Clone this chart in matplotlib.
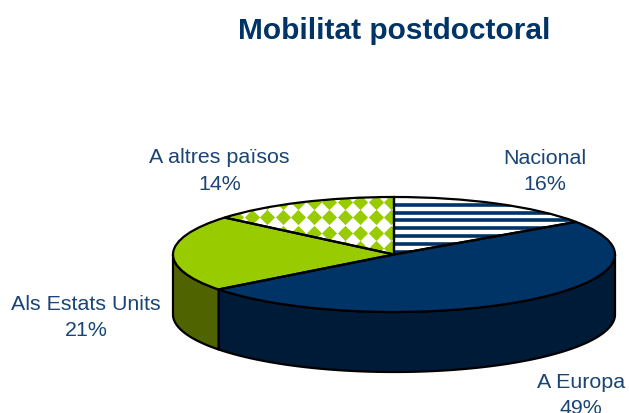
import numpy as np
import matplotlib
matplotlib.use("Agg")
import matplotlib.pyplot as plt

plt.rcParams['font.family'] = ['Liberation Sans', 'DejaVu Sans']

title = "Mobilitat postdoctoral"
categories = ["Nacional", "A Europa", "Als Estats Units", "A altres països"]
values = [15.4, 49.2, 21.5, 13.9]
value_labels = ["16%", "49%", "21%", "14%"]
top_colors = ["white", "#003366", "#99CC00", "white"]
side_colors = ["#BBBBBB", "#001B38", "#4F6300", "#BBBBBB"]
label_pos_px = [(545, 171.5), (581, 395.5), (86, 317.5), (219.5, 171)]

W, H = 629, 414
CX, CY, RX, RY, DEPTH_PX = 394, 255.5, 221, 57.5, 60
NAVY = "#003366"
GREEN = "#99CC00"
TEXT = "#1A4473"
LW = 1.6

fig = plt.figure(figsize=(W / 100, H / 100), dpi=100, facecolor="white")
ax = fig.add_axes([0, 0, 1, 1])


def X(px):
    return (px - CX) / RX


def Y(py):
    return (CY - py) / RY


depth = DEPTH_PX / RY

# Top face of the pie
wedges, _ = ax.pie(values, startangle=90, counterclock=False, colors=top_colors,
                   wedgeprops=dict(edgecolor="none", linewidth=0))
ax.set_aspect("auto")
ax.set_xlim(X(0), X(W))
ax.set_ylim(Y(H), Y(0))
ax.axis("off")

# Side walls: visible front half, from the cumulative shares
edges = np.concatenate([[0], np.cumsum(values)]) / np.sum(values) * 360.0
for i in range(len(values)):
    a0, a1 = max(edges[i], 90), min(edges[i + 1], 270)
    if a1 <= a0:
        continue
    t = np.radians(np.linspace(a0, a1, 120))
    x, y = np.sin(t), np.cos(t)
    ax.fill(np.r_[x, x[::-1]], np.r_[y, y[::-1] - depth], facecolor=side_colors[i],
            edgecolor="black", linewidth=LW, joinstyle="round", zorder=1)

for w in wedges:
    w.set_zorder(2)

# Stripes in the first slice
stripe_y = np.arange(205.7, 256, 7.85)
stripes = ax.hlines(Y(stripe_y), -1.1, 1.1, color=NAVY, linewidth=2.6, zorder=3)
stripes.set_clip_path(wedges[0])

# Diamonds in the last slice
D = 15.5
gx, gy = np.meshgrid(np.arange(360 - 11 * D, 400, D), np.arange(218.3 - 2 * D, 265, D))
diam = ax.scatter(X(gx.ravel()), Y(gy.ravel()), marker="D", s=60, color=GREEN,
                  linewidths=0, zorder=3)
diam.set_clip_path(wedges[3])

# Outlines on top
outline, _ = ax.pie(values, startangle=90, counterclock=False,
                    wedgeprops=dict(facecolor="none", edgecolor="black", linewidth=LW))
for o in outline:
    o.set_zorder(4)
ax.set_aspect("auto")
ax.set_xlim(X(0), X(W))
ax.set_ylim(Y(H), Y(0))
ax.axis("off")

fig.text(394.5 / W, 1 - 31 / H, title, ha="center", va="center",
         fontsize=21.5, fontweight="bold", color=NAVY)
for cat, val, (px, py) in zip(categories, value_labels, label_pos_px):
    fig.text(px / W, 1 - py / H, f"{cat}\n{val}", ha="center", va="center",
             fontsize=15.4, color=TEXT, linespacing=1.5)

fig.savefig("out.png", dpi=100, facecolor="white")
